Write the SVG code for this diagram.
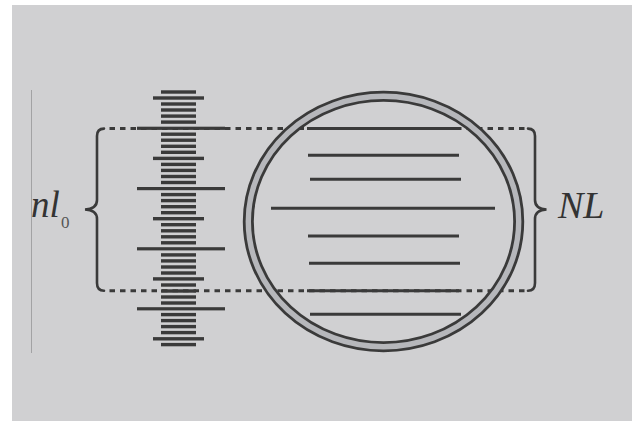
<svg xmlns="http://www.w3.org/2000/svg" width="632" height="421" viewBox="0 0 632 421">
<style>
.n{fill:#3a3a3a}
.ln{stroke:#3a3a3a;stroke-width:3;fill:none}
.dash{stroke:#3a3a3a;stroke-width:3;fill:none;stroke-dasharray:5.5 5}
.br{stroke:#3a3a3a;stroke-width:2.6;fill:none;stroke-linecap:round}
text{font-family:"Liberation Serif","Times New Roman",Times,serif}
</style>
<defs>
<rect id="N" x="161" y="-1.7" width="35" height="3.4"/>
<rect id="W" x="153" y="-1.7" width="51" height="3.4"/>
<rect id="L" x="137" y="-1.6" width="88" height="3.2"/>
</defs>
<rect x="12" y="5" width="620" height="416" fill="#d0d0d2"/>
<line x1="31.5" y1="90" x2="31.5" y2="353" stroke="#a2a2a4" stroke-width="1"/>
<g id="connectors">
<line class="dash" x1="109.5" y1="128.5" x2="528" y2="128.5"/>
<line class="dash" x1="109.5" y1="290.7" x2="528" y2="290.7"/>
</g>
<g id="ladder" class="n">
<use href="#N" y="92"/>
<use href="#W" y="98"/>
<use href="#N" y="104"/><use href="#N" y="110"/><use href="#N" y="116.1"/><use href="#N" y="122.1"/>
<use href="#L" y="128.3"/>
<use href="#N" y="134.2"/><use href="#N" y="140.2"/><use href="#N" y="146.3"/><use href="#N" y="152.3"/>
<use href="#W" y="158.4"/>
<use href="#N" y="164.4"/><use href="#N" y="170.4"/><use href="#N" y="176.5"/><use href="#N" y="182.5"/>
<use href="#L" y="188.6"/>
<use href="#N" y="194.6"/><use href="#N" y="200.6"/><use href="#N" y="206.7"/><use href="#N" y="212.7"/>
<use href="#W" y="218.7"/>
<use href="#N" y="224.7"/><use href="#N" y="230.8"/><use href="#N" y="236.8"/><use href="#N" y="242.8"/>
<use href="#L" y="248.8"/>
<use href="#N" y="254.9"/><use href="#N" y="260.9"/><use href="#N" y="267"/><use href="#N" y="273"/>
<use href="#W" y="278.9"/>
<use href="#N" y="285"/><use href="#N" y="291"/><use href="#N" y="297"/><use href="#N" y="303"/>
<use href="#L" y="308.8"/>
<use href="#N" y="314.6"/><use href="#N" y="320.6"/><use href="#N" y="326.6"/><use href="#N" y="332.6"/>
<use href="#W" y="338.8"/>
<use href="#N" y="344.6"/>
</g>
<g id="circle">
<ellipse cx="383.5" cy="221.5" rx="135.2" ry="125.2" fill="none" stroke="#3a3a3a" stroke-width="11"/>
<ellipse cx="383.5" cy="221.5" rx="135.2" ry="125.2" fill="none" stroke="#b6b7bb" stroke-width="5.4"/>
<line class="ln" x1="307" y1="128.5" x2="459" y2="128.5"/>
<line class="ln" x1="308" y1="155.3" x2="459" y2="155.3"/>
<line class="ln" x1="310" y1="179.3" x2="461" y2="179.3"/>
<line class="ln" x1="271" y1="208.3" x2="495" y2="208.3"/>
<line class="ln" x1="308" y1="236" x2="459" y2="236"/>
<line class="ln" x1="309" y1="263.3" x2="460" y2="263.3"/>
<line class="ln" x1="307" y1="290.7" x2="459" y2="290.7"/>
<line class="ln" x1="310" y1="314.3" x2="461" y2="314.3"/>
</g>
<g id="brace-left">
<path class="br" d="M104 128.6 Q97 128.6 97 136 L97 200 Q97 209 85 209.5 Q97 210 97 219 L97 283 Q97 290.7 104 290.7"/>
<text x="31" y="216.7" font-size="37" font-style="italic" fill="#333">nl</text>
<text x="61" y="227.5" font-size="17" fill="#555">0</text>
</g>
<g id="brace-right">
<path class="br" d="M528 128.6 Q535 128.6 535 136 L535 200 Q535 209 546.5 209.5 Q535 210 535 219 L535 283 Q535 290.7 528 290.7"/>
<text x="558" y="217.7" font-size="38" font-style="italic" fill="#333">NL</text>
</g>
</svg>
